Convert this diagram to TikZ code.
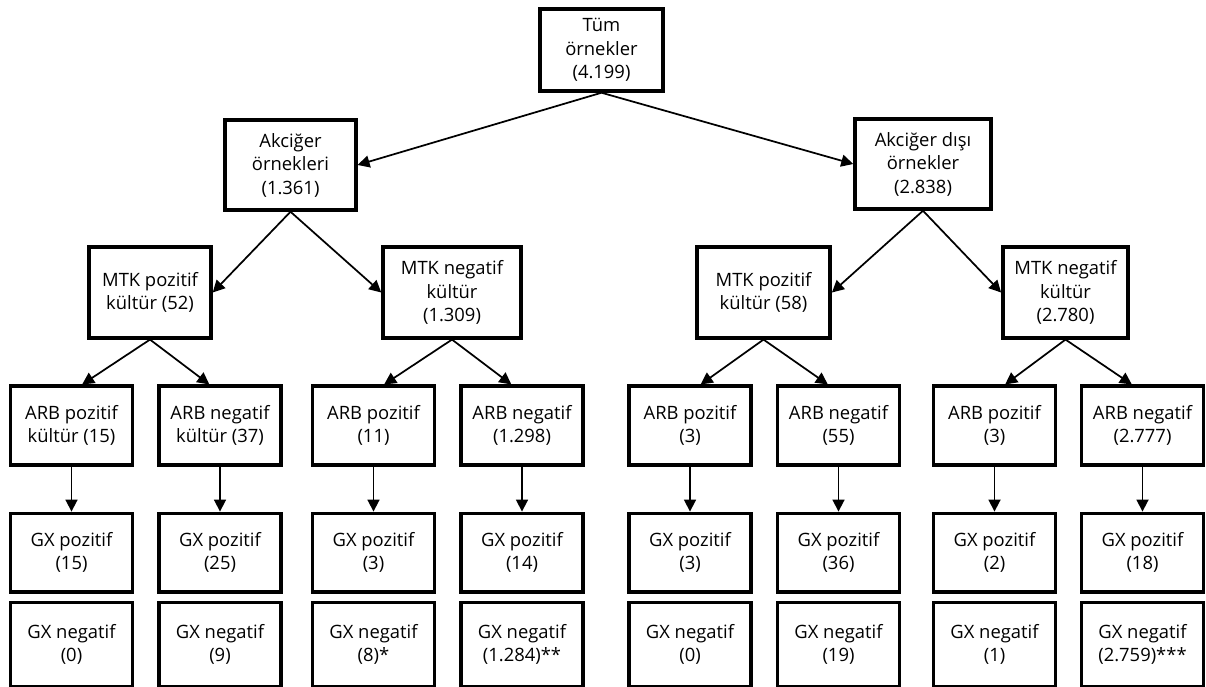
\documentclass[tikz,border=0pt]{standalone}
\usepackage{fontspec}
\setmainfont{Open Sans}
\usepackage{tikz}
\usetikzlibrary{arrows.meta, positioning}

\begin{document}
\begin{tikzpicture}[
		x=0.75pt, y=-0.75pt,
		node distance = 33.75pt,
		block/.style = {rectangle, draw, line width=2.6pt, align=center, inner sep=1pt,
				font=\fontsize{13.8}{17.6}\selectfont},
		mainblock/.style = {block, minimum width=92pt, minimum height=61.5pt},
		subblock/.style = {block, minimum height=67.5pt},
		mtkblock/.style = {block, minimum height=68pt},
		arbblock/.style = {block, minimum width=91.5pt, minimum height=59pt},
		gxblock/.style = {block, minimum width=91.5pt, minimum height=59pt},
		line/.style = {draw, line width=1.3pt, -{Triangle[length=9pt, width=9pt]}},
	]
	\useasboundingbox (0,0) rectangle (1206,686);

	% All samples
	\node [mainblock] (all) at (601.5,50) {Tüm\\örnekler\\(4.199)};

	% Lung / extrapulmonary
	\node [subblock, minimum width=98pt] (lung) at (290.5,165) {Akciğer\\örnekleri\\(1.361)};
	\node [subblock, minimum width=102pt] (extra) at (923,164) {Akciğer dışı\\örnekler\\(2.838)};

	% MTK culture
	\node [mtkblock, minimum width=91.5pt] (mtk1) at (150,292.5) {MTK pozitif\\kültür (52)};
	\node [mtkblock, minimum width=103.5pt] (mtk2) at (452,292.5) {MTK negatif\\kültür\\(1.309)};
	\node [mtkblock, minimum width=100pt] (mtk3) at (763.5,292.5) {MTK pozitif\\kültür (58)};
	\node [mtkblock, minimum width=94pt] (mtk4) at (1065.5,292.5) {MTK negatif\\kültür\\(2.780)};

	% ARB results
	\node [arbblock] (arb1) at (71.5,425.5) {ARB pozitif\\kültür (15)};
	\node [arbblock] (arb2) at (220,425.5) {ARB negatif\\kültür (37)};
	\node [arbblock] (arb3) at (373.5,425.5) {ARB pozitif\\(11)};
	\node [arbblock] (arb4) at (522,425.5) {ARB negatif\\(1.298)};
	\node [arbblock] (arb5) at (690,425.5) {ARB pozitif\\(3)};
	\node [arbblock] (arb6) at (838.5,425.5) {ARB negatif\\(55)};
	\node [arbblock] (arb7) at (994.5,425.5) {ARB pozitif\\(3)};
	\node [arbblock] (arb8) at (1142.5,425.5) {ARB negatif\\(2.777)};

	% GX results
	\foreach \i/\p/\n in {1/15/{(0)}, 2/25/{(9)}, 3/3/{(8)*}, 4/14/{(1.284)**},
			5/3/{(0)}, 6/36/{(19)}, 7/2/{(1)}, 8/18/{(2.759)***}} {
		\node [gxblock, below=of arb\i] (gxp\i) {GX pozitif\\(\p)};
		\node [gxblock, minimum height=63pt, below=5.25pt of gxp\i] (gxn\i) {GX negatif\\\n};
	}

	% Draw arrows
	\path [line] (all.south) -- (lung.east);
	\path [line] (all.south) -- (extra.west);
	\path [line] (lung.south) -- (mtk1.east);
	\path [line] (lung.south) -- (mtk2.west);
	\path [line] (extra.south) -- (mtk3.east);
	\path [line] (extra.south) -- (mtk4.west);
	\foreach \m/\a/\b in {1/1/2, 2/3/4, 3/5/6, 4/7/8} {
		\path [line] (mtk\m.south) -- ([xshift=8pt]arb\a.north);
		\path [line] (mtk\m.south) -- ([xshift=-8pt]arb\b.north);
	}
	\foreach \i in {1,...,8}
	\path [line] (arb\i) -- (gxp\i);
\end{tikzpicture}
\end{document}
